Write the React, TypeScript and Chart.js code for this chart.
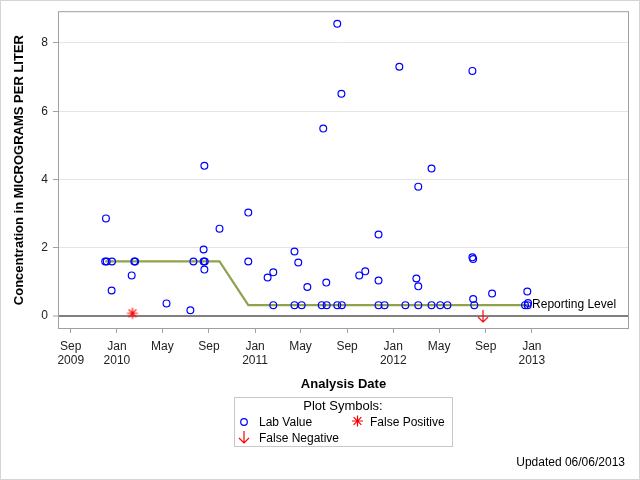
import React, { useEffect, useRef } from "react";
import { Chart, registerables } from "chart.js";

Chart.register(...registerables);

// ---------- data ----------
const labDates = [
  "2009-12-01", "2009-12-03", "2009-12-05", "2009-12-18", "2009-12-19",
  "2010-02-09", "2010-02-16", "2010-02-18", "2010-05-12", "2010-07-14",
  "2010-07-22", "2010-08-18", "2010-08-18", "2010-08-20", "2010-08-20",
  "2010-08-21", "2010-09-29", "2010-12-14", "2010-12-14", "2011-02-03",
  "2011-02-18", "2011-02-18", "2011-04-15", "2011-04-15", "2011-04-25",
  "2011-05-04", "2011-05-19", "2011-06-26", "2011-06-30", "2011-07-08",
  "2011-07-09", "2011-08-06", "2011-08-06", "2011-08-17", "2011-08-18",
  "2011-10-03", "2011-10-19", "2011-11-23", "2011-11-23", "2011-11-23",
  "2011-12-09", "2012-01-17", "2012-02-02", "2012-03-02", "2012-03-07",
  "2012-03-07", "2012-03-07", "2012-04-11", "2012-04-11", "2012-05-04",
  "2012-05-23", "2012-07-28", "2012-07-28", "2012-07-30", "2012-07-30",
  "2012-08-02", "2012-09-18", "2012-12-14", "2012-12-20", "2012-12-21",
  "2012-12-22",
];
const labValues = [
  1.6, 2.86, 1.6, 0.75, 1.6,
  1.19, 1.6, 1.6, 0.37, 0.17,
  1.6, 1.95, 1.6, 4.4, 1.36,
  1.6, 2.56, 3.03, 1.6, 1.13,
  1.28, 0.32, 1.89, 0.32, 1.57,
  0.32, 0.85, 0.32, 5.49, 0.98,
  0.32, 8.56, 0.32, 6.51, 0.32,
  1.19, 1.31, 2.39, 1.04, 0.32,
  0.32, 7.3, 0.32, 1.1, 3.79,
  0.87, 0.32, 4.32, 0.32, 0.32,
  0.32, 7.18, 1.72, 1.67, 0.5,
  0.32, 0.66, 0.32, 0.72, 0.32,
  0.38,
];
const falsePositiveDates = ["2010-02-11"];
const falsePositiveValues = [0.08];
const falseNegativeDates = ["2012-08-25"];
const falseNegativeValues = [0];
const reportingLevelDates = ["2009-12-01", "2010-09-29", "2010-12-14", "2012-12-22"];
const reportingLevelValues = [1.6, 1.6, 0.32, 0.32];

const xTickDates = [
  "2009-09-01", "2010-01-01", "2010-05-01", "2010-09-01", "2011-01-01",
  "2011-05-01", "2011-09-01", "2012-01-01", "2012-05-01", "2012-09-01",
  "2013-01-01",
];
const xTickLabels: (string | string[])[] = [
  ["Sep", "2009"], ["Jan", "2010"], "May", "Sep", ["Jan", "2011"],
  "May", "Sep", ["Jan", "2012"], "May", "Sep", ["Jan", "2013"],
];
const yTicks = [0, 2, 4, 6, 8];
const xMinDate = "2009-08-01";
const xMaxDate = "2013-09-12";
const yMin = -0.35;
const yMax = 8.9;

const yTitle = "Concentration in MICROGRAMS PER LITER";
const xTitle = "Analysis Date";
const legendTitle = "Plot Symbols:";
const legendLabels = ["Lab Value", "False Positive", "False Negative"];
const reportingLabel = "Reporting Level";
const footnote = "Updated 06/06/2013";

const FONT = "'Liberation Sans', Arial, Helvetica, sans-serif";

const day = (s: string) => Date.parse(s + "T00:00:00Z") / 86400000;
const toPts = (ds: string[], vs: number[]) => ds.map((d, i) => ({ x: day(d), y: vs[i] }));

function drawAsterisk(ctx: CanvasRenderingContext2D, cx: number, cy: number, r: number) {
  ctx.save();
  ctx.strokeStyle = "#ff0000";
  ctx.lineWidth = 1.2;
  ctx.beginPath();
  for (let k = 0; k < 4; k++) {
    const a = (Math.PI / 4) * k;
    ctx.moveTo(cx + r * Math.cos(a), cy + r * Math.sin(a));
    ctx.lineTo(cx - r * Math.cos(a), cy - r * Math.sin(a));
  }
  ctx.stroke();
  ctx.restore();
}

function drawArrow(ctx: CanvasRenderingContext2D, cx: number, cy: number) {
  ctx.save();
  ctx.strokeStyle = "#ff0000";
  ctx.lineWidth = 1.2;
  ctx.beginPath();
  ctx.moveTo(cx, cy - 6);
  ctx.lineTo(cx, cy + 6);
  ctx.moveTo(cx - 5, cy + 1);
  ctx.lineTo(cx, cy + 6);
  ctx.lineTo(cx + 5, cy + 1);
  ctx.stroke();
  ctx.restore();
}

function makeImg(draw: (c: CanvasRenderingContext2D) => void) {
  const c = document.createElement("canvas");
  c.width = 16;
  c.height = 16;
  const ctx = c.getContext("2d")!;
  draw(ctx);
  return c;
}

export default function App() {
  const ref = useRef<HTMLCanvasElement | null>(null);

  useEffect(() => {
    if (!ref.current) return;
    Chart.defaults.font.family = FONT;
    Chart.defaults.color = "#000";

    const starImg = makeImg((c) => drawAsterisk(c, 8, 8, 5.5));
    const arrowImg = makeImg((c) => drawArrow(c, 8, 8));

    const decorPlugin = {
      id: "decor",
      afterDraw(chart: any) {
        const { ctx, chartArea } = chart;
        const xs = chart.scales.x;
        const ys = chart.scales.y;
        ctx.save();
        // plot frame
        ctx.strokeStyle = "#a0a0a0";
        ctx.lineWidth = 1;
        ctx.strokeRect(
          chartArea.left - 0.5,
          chartArea.top - 0.5,
          chartArea.right - chartArea.left + 1,
          chartArea.bottom - chartArea.top + 1
        );
        // reporting level label
        const lx = xs.getPixelForValue(day(reportingLevelDates[reportingLevelDates.length - 1]));
        const ly = ys.getPixelForValue(reportingLevelValues[reportingLevelValues.length - 1]);
        ctx.fillStyle = "#000";
        ctx.font = `12px ${FONT}`;
        ctx.textAlign = "left";
        ctx.textBaseline = "middle";
        ctx.fillText(reportingLabel, lx + 4, ly);

        // legend box
        ctx.strokeStyle = "#c8c8c8";
        ctx.strokeRect(234.5, 397.5, 218, 49);
        ctx.font = `13px ${FONT}`;
        ctx.textAlign = "center";
        ctx.fillText(legendTitle, 343, 406);
        ctx.font = `12px ${FONT}`;
        ctx.textAlign = "left";
        // lab value marker
        ctx.strokeStyle = "#0000ff";
        ctx.lineWidth = 1.2;
        ctx.beginPath();
        ctx.arc(244, 422, 3.3, 0, Math.PI * 2);
        ctx.stroke();
        ctx.fillText(legendLabels[0], 259, 422.5);
        drawAsterisk(ctx, 357.5, 421, 5.5);
        ctx.fillText(legendLabels[1], 370, 422.5);
        drawArrow(ctx, 244, 437);
        ctx.fillText(legendLabels[2], 259, 438.5);

        // footnote
        ctx.textAlign = "right";
        ctx.fillText(footnote, 625, 463);

        // outer border
        ctx.strokeStyle = "#d4d4d4";
        ctx.lineWidth = 1;
        ctx.strokeRect(0.5, 0.5, 639, 479);
        ctx.restore();
      },
    };

    const chart = new Chart(ref.current, {
      type: "scatter",
      data: {
        datasets: [
          {
            label: legendLabels[0],
            data: toPts(labDates, labValues),
            pointStyle: "circle",
            pointRadius: 3.4,
            pointBorderWidth: 1.2,
            borderColor: "#0000ff",
            backgroundColor: "rgba(0,0,0,0)",
            showLine: false,
          },
          {
            label: legendLabels[1],
            data: toPts(falsePositiveDates, falsePositiveValues),
            pointStyle: starImg as any,
            pointRadius: 6,
            showLine: false,
          },
          {
            label: legendLabels[2],
            data: toPts(falseNegativeDates, falseNegativeValues),
            pointStyle: arrowImg as any,
            pointRadius: 6,
            showLine: false,
          },
          {
            label: reportingLabel,
            data: toPts(reportingLevelDates, reportingLevelValues),
            showLine: true,
            borderColor: "#8fa34f",
            borderWidth: 2.2,
            pointRadius: 0,
            backgroundColor: "rgba(0,0,0,0)",
          },
        ],
      },
      options: {
        responsive: false,
        animation: false,
        layout: { padding: { left: 0, top: 12, right: 12, bottom: 88 } },
        plugins: {
          legend: { display: false },
          tooltip: { enabled: false },
        },
        scales: {
          x: {
            type: "linear",
            min: day(xMinDate),
            max: day(xMaxDate),
            afterBuildTicks: (scale: any) => {
              scale.ticks = xTickDates.map((d) => ({ value: day(d) }));
            },
            afterFit: (scale: any) => {
              scale.height = 64;
            },
            ticks: {
              autoSkip: false,
              maxRotation: 0,
              padding: 7,
              color: "#222",
              font: { size: 12, lineHeight: 1.17 },
              callback: (_v: any, i: number) => xTickLabels[i],
            },
            grid: {
              drawOnChartArea: false,
              drawTicks: true,
              tickLength: 5,
              tickColor: "#a0a0a0",
            },
            border: { display: false },
            title: {
              display: true,
              text: xTitle,
              font: { size: 13, weight: "bold" },
              color: "#000",
              padding: { top: 0, bottom: 0 },
            },
          },
          y: {
            type: "linear",
            min: yMin,
            max: yMax,
            afterBuildTicks: (scale: any) => {
              scale.ticks = yTicks.map((v) => ({ value: v }));
            },
            afterFit: (scale: any) => {
              scale.width = 59;
            },
            ticks: {
              padding: 5,
              color: "#222",
              font: { size: 12 },
            },
            grid: {
              color: (c: any) => (c.tick && c.tick.value === 0 ? "#808080" : "#e4e4e4"),
              lineWidth: (c: any) => (c.tick && c.tick.value === 0 ? 2 : 1),
              tickColor: "#a0a0a0",
              tickWidth: 1,
              tickLength: 6,
            },
            border: { display: false },
            title: {
              display: true,
              text: yTitle,
              font: { size: 13, weight: "bold" },
              color: "#000",
              padding: { top: 12, bottom: 0 },
            },
          },
        },
      },
      plugins: [decorPlugin],
    });

    return () => chart.destroy();
  }, []);

  return (
    <div style={{ position: "absolute", left: 0, top: 0, width: 640, height: 480, background: "#fff" }}>
      <canvas ref={ref} width={640} height={480} />
    </div>
  );
}
